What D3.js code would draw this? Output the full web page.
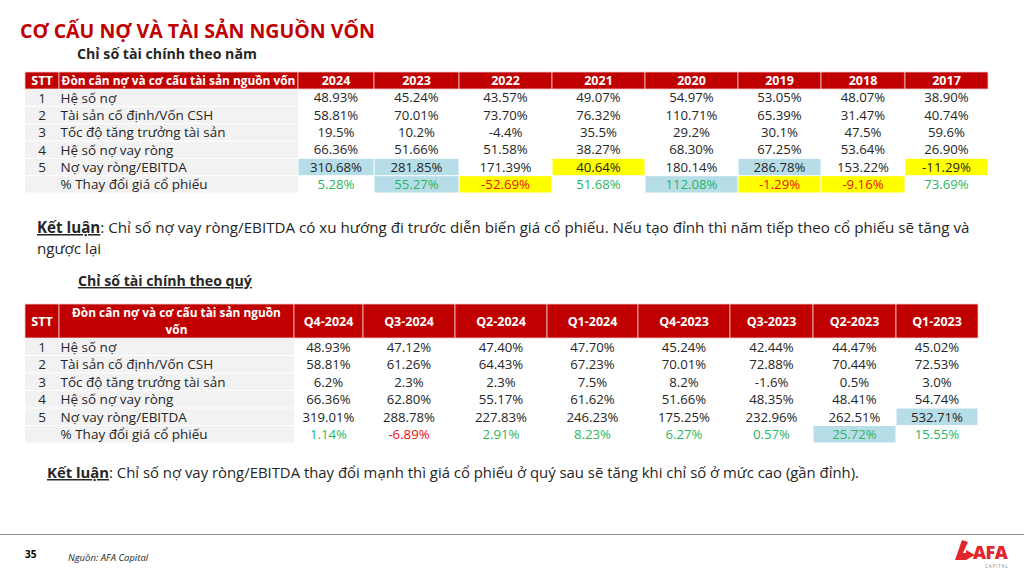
<!DOCTYPE html>
<html>
<head>
<meta charset="utf-8">
<script src="https://cdn.jsdelivr.net/npm/d3@7"></script>
<style>
  html, body { margin: 0; padding: 0; background: #fff; }
  svg { display: block; font-family: "Open Sans", "Noto Sans", sans-serif; }
</style>
</head>
<body>
<div id="slide"></div>
<script>
// --- data ---
const rowLabels = [
  "Hệ số nợ",
  "Tài sản cố định/Vốn CSH",
  "Tốc độ tăng trưởng tài sản",
  "Hệ số nợ vay ròng",
  "Nợ vay ròng/EBITDA",
  "% Thay đổi giá cổ phiếu"
];
const rowNumbers = ["1", "2", "3", "4", "5", ""];

const years = ["2024", "2023", "2022", "2021", "2020", "2019", "2018", "2017"];
const yearHeSoNo = [48.93, 45.24, 43.57, 49.07, 54.97, 53.05, 48.07, 38.9];
const yearTscdVonCsh = [58.81, 70.01, 73.7, 76.32, 110.71, 65.39, 31.47, 40.74];
const yearTangTruongTs = [19.5, 10.2, -4.4, 35.5, 29.2, 30.1, 47.5, 59.6];
const yearNoVayRong = [66.36, 51.66, 51.58, 38.27, 68.3, 67.25, 53.64, 26.9];
const yearNoVayEbitda = [310.68, 281.85, 171.39, 40.64, 180.14, 286.78, 153.22, -11.29];
const yearGiaCp = [5.28, 55.27, -52.69, 51.68, 112.08, -1.29, -9.16, 73.69];
// highlight flags: b = blue, y = yellow
const yearEbitdaFlag = ["b", "b", "", "y", "", "b", "", "y"];
const yearGiaFlag = ["", "b", "y", "", "b", "y", "y", ""];

const quarters = ["Q4-2024", "Q3-2024", "Q2-2024", "Q1-2024", "Q4-2023", "Q3-2023", "Q2-2023", "Q1-2023"];
const qHeSoNo = [48.93, 47.12, 47.4, 47.7, 45.24, 42.44, 44.47, 45.02];
const qTscdVonCsh = [58.81, 61.26, 64.43, 67.23, 70.01, 72.88, 70.44, 72.53];
const qTangTruongTs = [6.2, 2.3, 2.3, 7.5, 8.2, -1.6, 0.5, 3.0];
const qNoVayRong = [66.36, 62.8, 55.17, 61.62, 51.66, 48.35, 48.41, 54.74];
const qNoVayEbitda = [319.01, 288.78, 227.83, 246.23, 175.25, 232.96, 262.51, 532.71];
const qGiaCp = [1.14, -6.89, 2.91, 8.23, 6.27, 0.57, 25.72, 15.55];
const qEbitdaFlag = ["", "", "", "", "", "", "", "b"];
const qGiaFlag = ["", "", "", "", "", "", "b", ""];

// --- layout ---
const width = 1024;
const height = 573;
const red = "#c00000";
const blueHi = "#b7dee8";
const yellowHi = "#ffff00";
const green = "#2bb55f";
const textCol = "#262626";

const svg = d3
  .select("#slide")
  .append("svg")
  .attr("width", width)
  .attr("height", height)
  .attr("viewBox", [0, 0, width, height]);

// shrink/grow a text so that `measure` (defaults to the text itself) spans the width
function fitWidth(sel, target, measure) {
  const w = (measure || sel).node().getComputedTextLength();
  const fs = parseFloat(sel.attr("font-size"));
  sel.attr("font-size", (fs * target) / w);
}

// plain hyphen for negatives, like the sheet
const locale = d3.formatLocale({
  decimal: ".",
  thousands: ",",
  grouping: [3],
  currency: ["", ""],
  minus: "-"
});
const fmt2 = (v) => locale.format(".2f")(v) + "%";
const fmt1 = (v) => locale.format(".1f")(v) + "%";

function drawTable(cfg) {
  const g = svg.append("g");
  const edges = [cfg.valueLeft].concat(
    Array.from(d3.cumsum(cfg.colWidths), (c) => cfg.valueLeft + c)
  );
  const x = d3.scaleOrdinal().domain(cfg.columns).range(edges.slice(0, -1));
  const w = d3.scaleOrdinal().domain(cfg.columns).range(cfg.colWidths);
  const y = d3
    .scaleBand()
    .domain(d3.range(rowLabels.length))
    .range([cfg.bodyTop, cfg.bodyBottom]);

  // header
  const headCells = [
    { x0: cfg.left, x1: cfg.sttRight },
    { x0: cfg.sttRight, x1: cfg.valueLeft }
  ].concat(cfg.columns.map((c) => ({ x0: x(c), x1: x(c) + w(c) })));
  g.selectAll("rect.head")
    .data(headCells)
    .enter()
    .append("rect")
    .attr("class", "head")
    .attr("x", (d) => d.x0)
    .attr("y", cfg.headTop)
    .attr("width", (d) => d.x1 - d.x0)
    .attr("height", cfg.bodyTop - cfg.headTop)
    .attr("fill", red)
    .attr("stroke", "#f4c7c7")
    .attr("stroke-width", 0.8);

  const headMid = (cfg.headTop + cfg.bodyTop) / 2;
  g.append("text")
    .attr("x", (cfg.left + cfg.sttRight) / 2)
    .attr("y", headMid)
    .attr("dy", "0.36em")
    .attr("text-anchor", "middle")
    .attr("font-size", 12.5)
    .attr("font-weight", 700)
    .attr("fill", "#fff")
    .text("STT");

  const labelHead = g
    .append("text")
    .attr("text-anchor", "middle")
    .attr("font-size", 12.5)
    .attr("font-weight", 700)
    .attr("fill", "#fff");
  const n = cfg.labelHeader.length;
  const spans = cfg.labelHeader.map((line, i) =>
    labelHead
      .append("tspan")
      .attr("x", (cfg.sttRight + cfg.valueLeft) / 2)
      .attr("y", headMid + (i - (n - 1) / 2) * 17)
      .attr("dy", "0.36em")
      .text(line)
  );
  if (cfg.labelHeaderWidth) fitWidth(labelHead, cfg.labelHeaderWidth, spans[0]);

  g.selectAll("text.colhead")
    .data(cfg.columns)
    .enter()
    .append("text")
    .attr("class", "colhead")
    .attr("x", (c) => x(c) + w(c) / 2)
    .attr("y", headMid)
    .attr("dy", "0.36em")
    .attr("text-anchor", "middle")
    .attr("font-size", 12.5)
    .attr("font-weight", 700)
    .attr("fill", "#fff")
    .text((c) => c);

  // grey label area
  g.selectAll("rect.lab")
    .data(d3.range(rowLabels.length))
    .enter()
    .append("rect")
    .attr("class", "lab")
    .attr("x", cfg.left)
    .attr("y", (i) => y(i) + 0.5)
    .attr("width", cfg.valueLeft - cfg.left)
    .attr("height", y.bandwidth() - 1)
    .attr("fill", "#f2f2f2");

  g.selectAll("text.stt")
    .data(rowNumbers)
    .enter()
    .append("text")
    .attr("class", "stt")
    .attr("x", (cfg.left + cfg.sttRight) / 2)
    .attr("y", (d, i) => y(i) + y.bandwidth() / 2)
    .attr("dy", "0.36em")
    .attr("text-anchor", "middle")
    .attr("font-size", 13.5)
    .attr("fill", textCol)
    .text((d) => d);

  g.selectAll("text.lbl")
    .data(rowLabels)
    .enter()
    .append("text")
    .attr("class", "lbl")
    .attr("x", cfg.sttRight + 1.5)
    .attr("y", (d, i) => y(i) + y.bandwidth() / 2)
    .attr("dy", "0.36em")
    .attr("font-size", 13.5)
    .attr("fill", textCol)
    .text((d) => d);

  // value cells
  const cells = [];
  cfg.rows.forEach((vals, r) => {
    vals.forEach((v, c) => {
      cells.push({
        r,
        col: cfg.columns[c],
        v,
        flag: (cfg.flags[r] || [])[c] || ""
      });
    });
  });

  g.selectAll("rect.hi")
    .data(cells.filter((d) => d.flag))
    .enter()
    .append("rect")
    .attr("class", "hi")
    .attr("x", (d) => x(d.col) + 0.5)
    .attr("y", (d) => y(d.r) + 0.5)
    .attr("width", (d) => w(d.col) - 1)
    .attr("height", y.bandwidth() - 1)
    .attr("fill", (d) => (d.flag === "b" ? blueHi : yellowHi));

  const lastRow = rowLabels.length - 1;
  g.selectAll("text.val")
    .data(cells)
    .enter()
    .append("text")
    .attr("class", "val")
    .attr("x", (d) => x(d.col) + w(d.col) / 2)
    .attr("y", (d) => y(d.r) + y.bandwidth() / 2)
    .attr("dy", "0.36em")
    .attr("text-anchor", "middle")
    .attr("font-size", 13.2)
    .attr("fill", (d) => {
      if (d.r !== lastRow) return textCol;
      return d.v < 0 ? "#e8100f" : green;
    })
    .text((d) => (d.r === 2 ? fmt1(d.v) : fmt2(d.v)));
}

// --- title block ---
const title = svg
  .append("text")
  .attr("x", 20)
  .attr("y", 38)
  .attr("font-size", 22)
  .attr("font-weight", 700)
  .attr("fill", red)
  .text("CƠ CẤU NỢ VÀ TÀI SẢN NGUỒN VỐN");
fitWidth(title, 355);

const sub1 = svg
  .append("text")
  .attr("x", 77)
  .attr("y", 59)
  .attr("font-size", 15)
  .attr("font-weight", 700)
  .attr("fill", textCol)
  .text("Chỉ số tài chính theo năm");
fitWidth(sub1, 180);

drawTable({
  left: 25,
  sttRight: 59,
  valueLeft: 298,
  colWidths: [76, 85, 93, 93, 93, 83, 84, 83],
  headTop: 72,
  bodyTop: 89,
  bodyBottom: 193,
  columns: years,
  labelHeader: ["Đòn cân nợ và cơ cấu tài sản nguồn vốn"],
  labelHeaderWidth: 234,
  rows: [yearHeSoNo, yearTscdVonCsh, yearTangTruongTs, yearNoVayRong, yearNoVayEbitda, yearGiaCp],
  flags: [[], [], [], [], yearEbitdaFlag, yearGiaFlag]
});

// --- conclusion 1 ---
const c1 = svg
  .append("text")
  .attr("x", 37)
  .attr("y", 233)
  .attr("font-size", 15)
  .attr("fill", textCol);
c1.append("tspan")
  .attr("font-weight", 700)
  .attr("text-decoration", "underline")
  .text("Kết luận");
c1.append("tspan").text(
  ": Chỉ số nợ vay ròng/EBITDA có xu hướng đi trước diễn biến giá cổ phiếu. Nếu tạo đỉnh thì năm tiếp theo cổ phiếu sẽ tăng và"
);
fitWidth(c1, 933);
svg
  .append("text")
  .attr("x", 37)
  .attr("y", 254)
  .attr("font-size", c1.attr("font-size"))
  .attr("fill", textCol)
  .text("ngược lại");

const sub2 = svg
  .append("text")
  .attr("x", 78)
  .attr("y", 286)
  .attr("font-size", 15)
  .attr("font-weight", 700)
  .attr("fill", textCol)
  .attr("text-decoration", "underline")
  .text("Chỉ số tài chính theo quý");
fitWidth(sub2, 174);

drawTable({
  left: 25,
  sttRight: 59,
  valueLeft: 294,
  colWidths: [69, 92, 92, 91, 92, 83, 83, 82],
  headTop: 304,
  bodyTop: 338,
  bodyBottom: 443,
  columns: quarters,
  labelHeader: ["Đòn cân nợ và cơ cấu tài sản nguồn", "vốn"],
  labelHeaderWidth: 209,
  rows: [qHeSoNo, qTscdVonCsh, qTangTruongTs, qNoVayRong, qNoVayEbitda, qGiaCp],
  flags: [[], [], [], [], qEbitdaFlag, qGiaFlag]
});

// --- conclusion 2 ---
const c2 = svg
  .append("text")
  .attr("x", 47)
  .attr("y", 478)
  .attr("font-size", 15)
  .attr("fill", textCol);
c2.append("tspan")
  .attr("font-weight", 700)
  .attr("text-decoration", "underline")
  .text("Kết luận");
c2.append("tspan").text(
  ": Chỉ số nợ vay ròng/EBITDA thay đổi mạnh thì giá cổ phiếu ở quý sau sẽ tăng khi chỉ số ở mức cao (gần đỉnh)."
);
fitWidth(c2, 813);

// --- footer ---
svg
  .append("line")
  .attr("x1", 0)
  .attr("x2", width)
  .attr("y1", 534.5)
  .attr("y2", 534.5)
  .attr("stroke", "#8c8c8c")
  .attr("stroke-width", 1);

svg
  .append("text")
  .attr("x", 25)
  .attr("y", 558)
  .attr("font-size", 10)
  .attr("font-weight", 700)
  .attr("fill", "#000")
  .text("35");

svg
  .append("text")
  .attr("x", 68)
  .attr("y", 561)
  .attr("font-size", 9.5)
  .attr("font-style", "italic")
  .attr("fill", textCol)
  .text("Nguồn: AFA Capital");

// logo
const logo = svg.append("g").attr("fill", "#e3262d");
logo
  .append("path")
  .attr("d", "M955,560 L962,540 L968,542 L963,553 L968,553 L966,560 Z");
logo
  .append("path")
  .attr("d", "M966,550 L975,555 L966,560 Z");
logo
  .append("text")
  .attr("x", 973)
  .attr("y", 559)
  .attr("font-size", 18)
  .attr("font-weight", 800)
  .attr("letter-spacing", -0.5)
  .text("AFA");
logo
  .append("text")
  .attr("x", 985)
  .attr("y", 567.5)
  .attr("font-size", 4.5)
  .attr("letter-spacing", 0.9)
  .attr("fill", "#888")
  .text("CAPITAL");
</script>
</body>
</html>
